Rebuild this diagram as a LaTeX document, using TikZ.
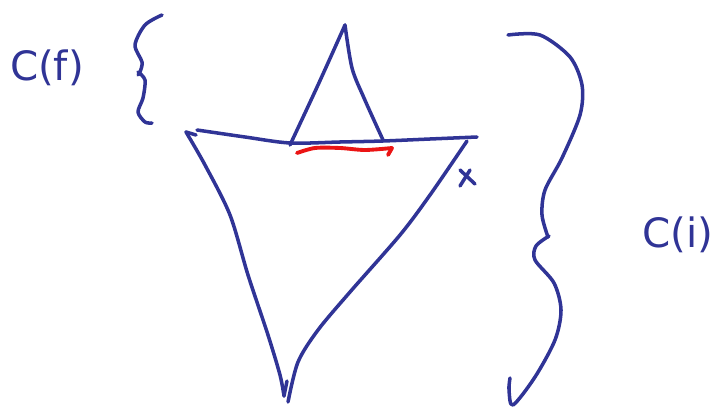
\documentclass[tikz,border=0pt]{standalone}
\usepackage{fontspec}
\setsansfont{DejaVu Sans}
\usetikzlibrary{positioning}
\definecolor{pen}{RGB}{48,52,150}
\definecolor{penred}{RGB}{235,20,20}

\begin{document}
\begin{tikzpicture}[x=0.02cm,y=-0.02cm,line cap=round,line join=round,
  stroke/.style={draw=pen,line width=2pt},
  redstroke/.style={draw=penred,line width=2.2pt},
  label/.style={text=pen,font=\sffamily\fontsize{23}{23}\selectfont,inner sep=0pt}]
\useasboundingbox (0,0) rectangle (722,408);
\coordinate (apex) at (345,25);
\coordinate (sl) at (290,145);
\coordinate (sr) at (383,140);
\coordinate (tl) at (197,130);
\coordinate (tr) at (477,137);
\coordinate (bot) at (284,396);
% small triangle
\draw[stroke] plot[smooth] coordinates {(sl) (318,85) (apex)};
\draw[stroke] plot[smooth] coordinates {(apex) (352,68) (364,98) (sr)};
% big triangle
\draw[stroke] plot[smooth] coordinates {(tl) (245,137) (290,143) (340,142) (383,141) (430,139) (tr)};
\draw[stroke] plot[smooth] coordinates {(186,132) (205,165) (230,215) (248,275) (268,335) (280,375) (bot)};
\draw[stroke] (186,132) -- (196,135);
\draw[stroke] (bot) -- (287,381);
\draw[stroke] plot[smooth] coordinates {(467,141) (430,195) (400,235) (350,292) (318,330) (298,362) (288,402)};
% red segment
\draw[redstroke] plot[smooth] coordinates {(297,153) (315,148) (340,148) (365,150) (392,148)};
\draw[redstroke] (392,148) -- (388,155);
% x mark
\draw[stroke] (460,170) -- (475,184);
\draw[stroke] (470,170) -- (460,186);
% braces
\draw[stroke] plot[smooth] coordinates {(162,15) (145,25) (135,45) (142,62) (140,72) (138,75)};
\draw[stroke] plot[smooth] coordinates {(138,72) (145,80) (143,98) (138,112) (145,122) (152,123)};
\draw[stroke] plot[smooth] coordinates {(508,35) (540,35) (570,57) (582,85) (580,115) (562,158) (545,190) (542,215) (548,237)};
\draw[stroke] plot[smooth] coordinates {(549,236) (536,246) (535,260) (554,283) (561,310) (555,340) (535,377) (513,405) (509,390) (510,378)};
% labels
\node[label] (cf) at (47,68) {C(f)};
\node[label] (ci) at (678,235) {C(i)};
\end{tikzpicture}
\end{document}
